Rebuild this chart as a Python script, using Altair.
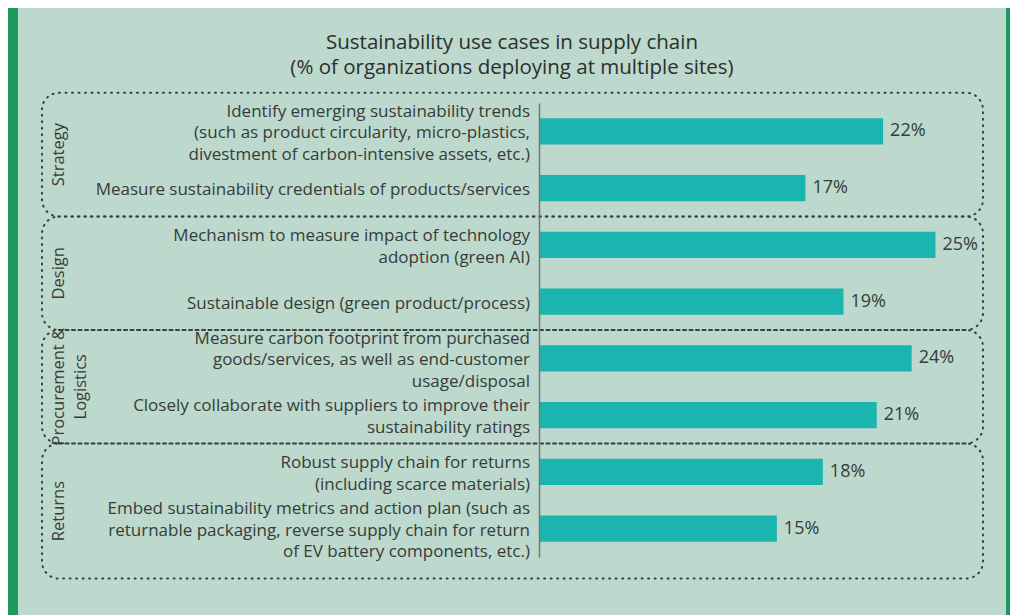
import altair as alt
import pandas as pd

# ---------------- data ----------------
use_cases = [
    "Identify emerging sustainability trends|(such as product circularity, micro-plastics,|divestment of carbon-intensive assets, etc.)",
    "Measure sustainability credentials of products/services",
    "Mechanism to measure impact of technology|adoption (green AI)",
    "Sustainable design (green product/process)",
    "Measure carbon footprint from purchased|goods/services, as well as end-customer|usage/disposal",
    "Closely collaborate with suppliers to improve their|sustainability ratings",
    "Robust supply chain for returns|(including scarce materials)",
    "Embed sustainability metrics and action plan (such as|returnable packaging, reverse supply chain for return|of EV battery components, etc.)",
]
values = [21.7, 16.8, 25.0, 19.2, 23.5, 21.3, 17.9, 15.0]
value_labels = ["22%", "17%", "25%", "19%", "24%", "21%", "18%", "15%"]

groups = ["Strategy", "Design", "Procurement &|Logistics", "Returns"]
group_start = [0, 2, 4, 6]   # first row index of each group
group_size = [2, 2, 2, 2]

title_lines = "Sustainability use cases in supply chain|(% of organizations deploying at multiple sites)"

# ---------------- styling ----------------
FONT = "Open Sans"
GREEN = "#1f9a5e"
PANEL = "#bdd8cc"
BAR = "#1bb5b0"
TEXT = "#353c39"

W, H = 444, 454
n = len(use_cases)
STEP = H / n
LABEL_LH = 21.5

df = pd.DataFrame({"use_case": use_cases, "value": values, "label": value_labels})

# one row per label line, centred on its bar row
rows = []
for i, uc in enumerate(use_cases):
    parts = uc.split("|")
    m = len(parts)
    for k, p in enumerate(parts):
        rows.append({"line": p, "pos": i + 0.5 + (k - (m - 1) / 2) * LABEL_LH / STEP})
ldf = pd.DataFrame(rows)

top_pad, bot_pad = 0.18, 0.38
gdf = pd.DataFrame({
    "group": groups,
    "y0": [s - (top_pad if i == 0 else 0) for i, s in enumerate(group_start)],
    "y1": [s + c + (bot_pad if i == len(groups) - 1 else 0)
           for i, (s, c) in enumerate(zip(group_start, group_size))],
})
gdf["mid"] = (gdf["y0"] + gdf["y1"]) / 2

row_scale = alt.Scale(domain=[0, n], reverse=True, nice=False, zero=False)
band_scale = alt.Scale(paddingInner=0.54, paddingOuter=0.27)
x_lin = alt.X("value:Q", scale=alt.Scale(domain=[0, 28], nice=False), axis=None)

one = pd.DataFrame({"t": [title_lines]})

panel = alt.Chart(one).mark_rect(fill=PANEL).encode(
    x=alt.value(-521), x2=alt.value(467), y=alt.value(-100), y2=alt.value(520)
)

boxes = alt.Chart(gdf).mark_rect(
    fill=None, fillOpacity=0, stroke="#3a3f3c", strokeWidth=2,
    strokeDash=[1, 5.5], strokeCap="round", cornerRadius=17
).encode(
    x=alt.value(-497), x2=alt.value(W),
    y=alt.Y("y0:Q", scale=row_scale, axis=None), y2="y1:Q"
)

group_text = alt.Chart(gdf).mark_text(
    angle=270, align="center", baseline="top", lineBreak="|",
    font=FONT, fontSize=16.5, color=TEXT, lineHeight=22
).encode(
    x=alt.value(-488),
    y=alt.Y("mid:Q", scale=row_scale, axis=None),
    text="group:N",
)

labels = alt.Chart(ldf).mark_text(
    align="right", baseline="middle", font=FONT, fontSize=17, color=TEXT, dy=2
).encode(
    x=alt.value(-9),
    y=alt.Y("pos:Q", scale=row_scale, axis=None),
    text="line:N",
)

bars = alt.Chart(df).mark_bar(color=BAR).encode(
    x=x_lin,
    y=alt.Y("use_case:N", sort=use_cases, scale=band_scale).axis(
        title=None, labels=False, ticks=False, domainColor="#6f7a75",
        domainWidth=1.5, zindex=1,
    ),
)

vals = alt.Chart(df).mark_text(
    align="left", baseline="middle", dx=7, font=FONT, fontSize=18, color=TEXT
).encode(
    x=x_lin,
    y=alt.Y("use_case:N", sort=use_cases, scale=band_scale, axis=None),
    text="label:N",
)

title = alt.Chart(one).mark_text(
    align="center", baseline="middle", lineBreak="|", lineHeight=25.5,
    font=FONT, fontSize=20.5, color="#2b2f2d"
).encode(x=alt.value(-27), y=alt.value(-60.5), text="t:N")

chart = alt.layer(panel, boxes, group_text, labels, bars, vals, title).resolve_scale(
    y="independent"
).properties(
    width=W, height=H,
    autosize=alt.AutoSizeParams(type="none"),
    padding={"left": 531, "top": 95, "right": 27, "bottom": 58},
    background=GREEN,
).configure_view(stroke=None)

chart.save("out.html", embed_options={"renderer": "svg", "actions": False})
